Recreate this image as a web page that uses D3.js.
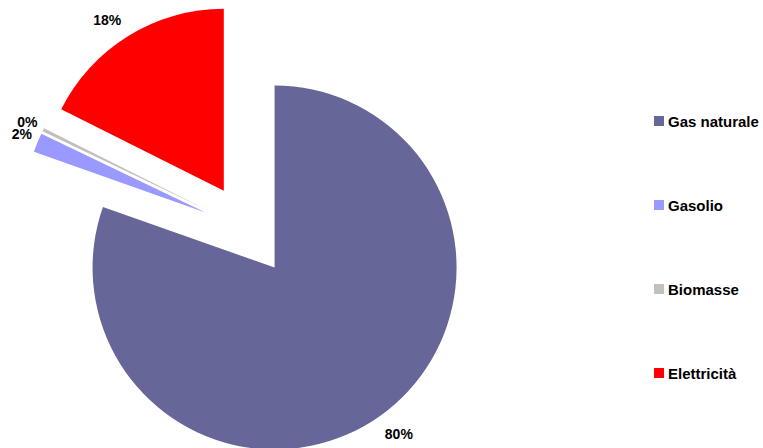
<!DOCTYPE html>
<html>
<head>
<meta charset="utf-8">
<script src="https://cdn.jsdelivr.net/npm/d3@7"></script>
<style>
  html, body { margin: 0; padding: 0; background: #fff; }
  svg { display: block; }
  text { font-family: "Liberation Sans", Arial, sans-serif; font-weight: bold; fill: #000; }
</style>
</head>
<body>
<svg id="chart" width="763" height="448"></svg>
<script>
// Energy sources and their share of consumption (%)
const categories = ["Gas naturale", "Gasolio", "Biomasse", "Elettricità"];
const shares = [80.4, 1.7, 0.3, 17.6];
const colors = ["#666699", "#9999FF", "#C0C0C0", "#FF0000"];

const width = 763, height = 448;
const svg = d3.select("#chart");

const cx = 248, cy = 230;      // pie centre
const radius = 182;
const explode = 46;            // every slice is pulled out from the centre
const labelRadius = 202;
// small hand adjustments so the percentage labels clear their neighbours
const labelNudge = [[7.6, 2], [3, -1], [2, 1.5], [-10.6, 1]];

const pie = d3.pie().sort(null).value(d => d.value);
const arc = d3.arc().innerRadius(0).outerRadius(radius);

const data = categories.map((c, i) => ({ name: c, value: shares[i], color: colors[i] }));
const slices = pie(data);

const fmt = v => Math.round(v) + "%";

const g = svg.append("g").attr("transform", `translate(${cx},${cy})`);

const sliceG = g.selectAll("g.slice")
  .data(slices)
  .join("g")
  .attr("class", "slice")
  .attr("transform", d => {
    const a = (d.startAngle + d.endAngle) / 2;
    return `translate(${explode * Math.sin(a)},${-explode * Math.cos(a)})`;
  });

sliceG.append("path")
  .attr("d", arc)
  .attr("fill", d => d.data.color);

sliceG.append("text")
  .attr("x", (d, i) => labelRadius * Math.sin((d.startAngle + d.endAngle) / 2) + labelNudge[i][0])
  .attr("y", (d, i) => -labelRadius * Math.cos((d.startAngle + d.endAngle) / 2) + labelNudge[i][1])
  .attr("text-anchor", "middle")
  .attr("dominant-baseline", "central")
  .attr("font-size", 14)
  .text(d => fmt(d.data.value));

// Legend
const legendY = d3.scalePoint().domain(categories).range([121, 373]);
const legend = svg.append("g").selectAll("g")
  .data(data)
  .join("g")
  .attr("transform", d => `translate(654,${legendY(d.name)})`);

legend.append("rect")
  .attr("x", 0).attr("y", -5)
  .attr("width", 10).attr("height", 10)
  .attr("fill", d => d.color);

legend.append("text")
  .attr("x", 14)
  .attr("y", 0)
  .attr("dominant-baseline", "central")
  .attr("font-size", 15)
  .text(d => d.name);
</script>
</body>
</html>
